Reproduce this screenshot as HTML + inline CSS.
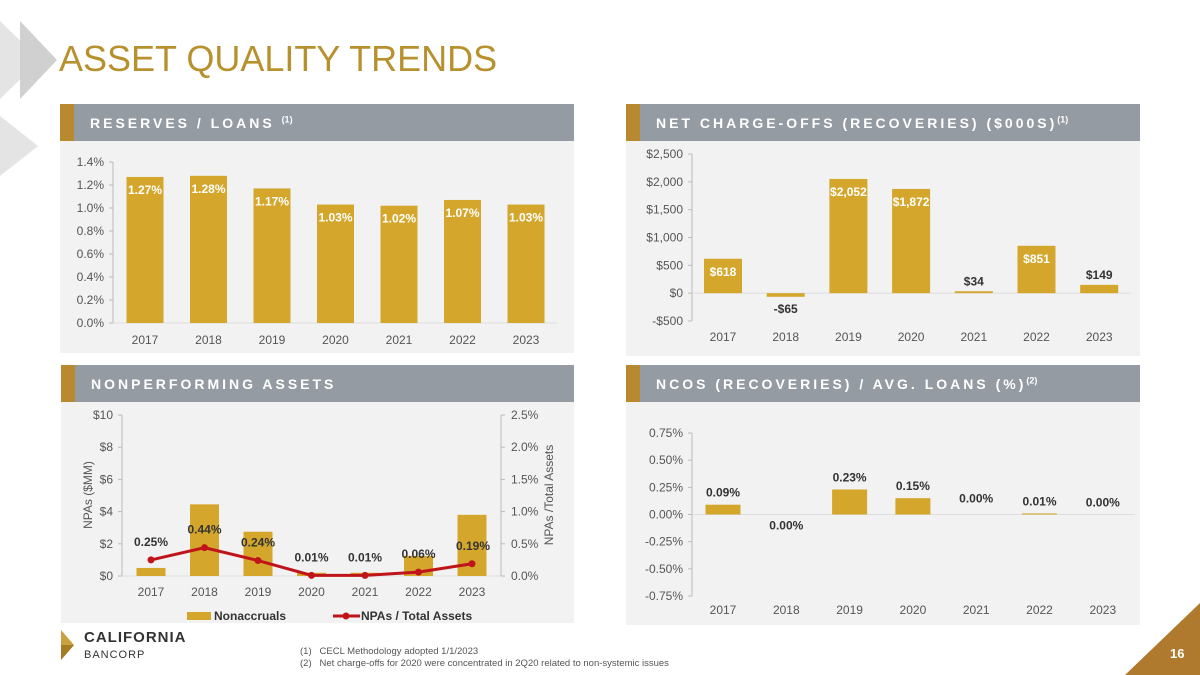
<!DOCTYPE html>
<html><head><meta charset="utf-8"><style>
body{margin:0;width:1200px;height:675px;background:#fff;overflow:hidden;position:relative;font-family:"Liberation Sans",sans-serif}
.hdr{position:absolute;height:37px;background:#959ba3;color:#fff;font-weight:bold;font-size:14px;letter-spacing:3px;line-height:39px;box-sizing:border-box;padding-left:30px;white-space:nowrap;overflow:hidden}
.hdr:before{content:"";position:absolute;left:0;top:0;width:14px;height:37px;background:#b8892e}
.body{position:absolute;background:#f2f2f2}
svg{position:absolute;left:0;top:0}
sup{font-size:9px;letter-spacing:0;line-height:0}
</style></head><body>
<svg width="1200" height="675">
<polygon points="0,21 0,99 40,60" fill="#e4e4e4"/><polygon points="20,21 20,99 57,60" fill="#d0d0d0"/>
<polygon points="0,116 0,176 38,146" fill="#e4e4e4"/>
<polygon points="1200,603 1200,675 1125,675" fill="#b07a2e"/>
<polygon points="61,630 74,645 61,660" fill="#c9a23f"/><polygon points="61,645 74,645 61,660" fill="#a57c25"/>
</svg>
<div style="position:absolute;left:59px;top:38px;font-size:36px;color:#b8912f;letter-spacing:0;font-weight:300">ASSET QUALITY TRENDS</div>
<div class="hdr" style="left:60px;top:104px;width:514px">RESERVES / LOANS <sup>(1)</sup></div>
<div class="body" style="left:60px;top:141px;width:514px;height:212px"></div>
<div class="hdr" style="left:626px;top:104px;width:514px">NET CHARGE-OFFS (RECOVERIES) ($000S)<sup>(1)</sup></div>
<div class="body" style="left:626px;top:141px;width:514px;height:215px"></div>
<div class="hdr" style="left:61px;top:365px;width:513px">NONPERFORMING ASSETS</div>
<div class="body" style="left:61px;top:402px;width:513px;height:221px"></div>
<div class="hdr" style="left:626px;top:365px;width:514px">NCOS (RECOVERIES) / AVG. LOANS (%)<sup>(2)</sup></div>
<div class="body" style="left:626px;top:402px;width:514px;height:223px"></div>
<div style="position:absolute;left:84px;top:630px;color:#333;font-weight:bold;font-size:15px;letter-spacing:1px;line-height:16px">CALIFORNIA<br><span style="font-size:11px;font-weight:normal">BANCORP</span></div>
<div style="position:absolute;left:300px;top:646px;font-size:9.5px;color:#555;line-height:12px">(1)&nbsp;&nbsp; CECL Methodology adopted 1/1/2023<br>(2)&nbsp;&nbsp; Net charge-offs for 2020 were concentrated in 2Q20 related to non-systemic issues</div>
<div style="position:absolute;left:1170px;top:646px;color:#fff;font-weight:bold;font-size:13px">16</div>
<svg id="c" width="1200" height="675"></svg>
<script>
const years=["2017","2018","2019","2020","2021","2022","2023"];
const reserves=[1.27,1.28,1.17,1.03,1.02,1.07,1.03];
const reservesTicks=[0,0.2,0.4,0.6,0.8,1.0,1.2,1.4];
const ncos=[618,-65,2052,1872,34,851,149];
const ncoTicks=[-500,0,500,1000,1500,2000,2500];
const nonaccruals=[0.5,4.45,2.75,0.2,0.2,1.25,3.8];
const npaRatio=[0.25,0.44,0.24,0.01,0.01,0.06,0.19];
const npaTicks=[0,2,4,6,8,10];
const npaRTicks=[0,0.5,1.0,1.5,2.0,2.5];
const ncoPct=[0.09,0.00,0.23,0.15,0.00,0.01,0.00];
const ncoPctTicks=[-0.75,-0.5,-0.25,0,0.25,0.5,0.75];
const S=document.getElementById('c');const N='http://www.w3.org/2000/svg';
function el(t,a,txt){const e=document.createElementNS(N,t);for(const k in a)e.setAttribute(k,a[k]);if(txt!==undefined)e.textContent=txt;S.appendChild(e);return e;}
function lin(d0,d1,r0,r1){return v=>r0+(v-d0)*(r1-r0)/(d1-d0);}
const GOLD='#d4a72c';
function axis(x,ticks,y,fmt,anchor,dx){el('line',{x1:x,x2:x,y1:y(ticks[ticks.length-1]),y2:y(ticks[0]),stroke:'#bbb'});
 ticks.forEach(t=>{el('line',{x1:x-4,x2:x,y1:y(t),y2:y(t),stroke:'#bbb'});
 const e=el('text',{x:x+dx,y:y(t)+4,'font-size':12,fill:'#555','text-anchor':anchor},fmt(t));});}
function years_(xs,y){years.forEach((yr,i)=>{const e=el('text',{x:xs(i),y:y,'font-size':12,fill:'#555','text-anchor':'middle'},yr);});}
// Chart 1
{const y=lin(0,1.4,323,162),x=i=>145+i*63.5,w=37;
axis(113,reservesTicks,y,t=>t.toFixed(1)+'%','end',-9);
el('line',{x1:113,x2:557,y1:y(0),y2:y(0),stroke:'#ddd'});
reserves.forEach((v,i)=>{const r=el('rect',{x:x(i)-w/2,y:y(v),width:w,height:y(0)-y(v),fill:GOLD});
const t=el('text',{x:x(i),y:y(v)+17,'font-size':12,'font-weight':'bold',fill:'#fff','text-anchor':'middle'},v.toFixed(2)+'%');});
years_(x,344);}
// Chart 2
{const y=lin(-500,2500,321,154),x=i=>723+i*62.7,w=38;
axis(692,ncoTicks,y,t=>(t<0?'-$':'$')+Math.abs(t).toLocaleString('en-US'),'end',-9);
el('line',{x1:692,x2:1131,y1:y(0),y2:y(0),stroke:'#ddd'});
ncos.forEach((v,i)=>{const top=Math.min(y(v),y(0));const r=el('rect',{x:x(i)-w/2,y:top,width:w,height:Math.max(Math.abs(y(v)-y(0)),1.5),fill:GOLD});
const lab=(v<0?'-$':'$')+Math.abs(v).toLocaleString('en-US');const inside=v>500;
const ty=v<0?y(v)+16:(inside?y(v)+17:y(v)-6);
const t=el('text',{x:x(i),y:ty,'font-size':12,'font-weight':'bold',fill:inside?'#fff':'#333','text-anchor':'middle'},lab);});
years_(x,341);}
// Chart 3
{const y=lin(0,10,576,415),yr=lin(0,2.5,576,415),x=i=>151+i*53.5,w=29;
axis(122,npaTicks,y,t=>'$'+t,'end',-9);
el('line',{x1:501,x2:501,y1:415,y2:576,stroke:'#bbb'});
npaRTicks.forEach(t=>{el('line',{x1:501,x2:505,y1:yr(t),y2:yr(t),stroke:'#bbb'});const e=el('text',{x:511,y:yr(t)+4,'font-size':12,fill:'#555'},t.toFixed(1)+'%');});
el('line',{x1:122,x2:501,y1:576,y2:576,stroke:'#ddd'});
nonaccruals.forEach((v,i)=>{const r=el('rect',{x:x(i)-w/2,y:y(v),width:w,height:y(0)-y(v),fill:GOLD});});
const l=el('polyline',{points:npaRatio.map((v,i)=>x(i)+','+yr(v)).join(' '),fill:'none',stroke:'#c0141b','stroke-width':3});
npaRatio.forEach((v,i)=>{const c=el('circle',{cx:x(i),cy:yr(v),r:3.5,fill:'#c0141b'});
const t=el('text',{x:x(i)+(i==6?1:0),y:Math.min(yr(v)-14, i==1?y(nonaccruals[1])+30:999),'font-size':12,'font-weight':'bold',fill:'#333','text-anchor':'middle'},v.toFixed(2)+'%');});
years_(x,596);
el('text',{transform:'translate(92,495) rotate(-90)','font-size':12,fill:'#555','text-anchor':'middle'},'NPAs ($MM)');
el('text',{transform:'translate(553,495) rotate(-90)','font-size':12,fill:'#555','text-anchor':'middle'},'NPAs /Total Assets');
el('rect',{x:187,y:612,width:24,height:8,fill:GOLD});el('text',{x:214,y:620,'font-size':12,'font-weight':'bold',fill:'#333'},'Nonaccruals');
el('line',{x1:333,x2:360,y1:616,y2:616,stroke:'#c0141b','stroke-width':3});el('circle',{cx:346,cy:616,r:3.5,fill:'#c0141b'});
el('text',{x:361,y:620,'font-size':12,'font-weight':'bold',fill:'#333'},'NPAs / Total Assets');}
// Chart 4
{const y=lin(-0.75,0.75,596,433),x=i=>723+i*63.3,w=35;
axis(692,ncoPctTicks,y,t=>t.toFixed(2)+'%','end',-9);
el('line',{x1:692,x2:1135,y1:y(0),y2:y(0),stroke:'#ddd'});
ncoPct.forEach((v,i)=>{const r=el('rect',{x:x(i)-w/2,y:y(v),width:w,height:Math.max(y(0)-y(v),0),fill:GOLD});
const ty=i==1?y(0)+15:(i==4?y(v)-12:y(v)-8);
const t=el('text',{x:x(i),y:ty,'font-size':12,'font-weight':'bold',fill:'#333','text-anchor':'middle'},v.toFixed(2)+'%');});
years_(x,614);}
</script>
</body></html>
